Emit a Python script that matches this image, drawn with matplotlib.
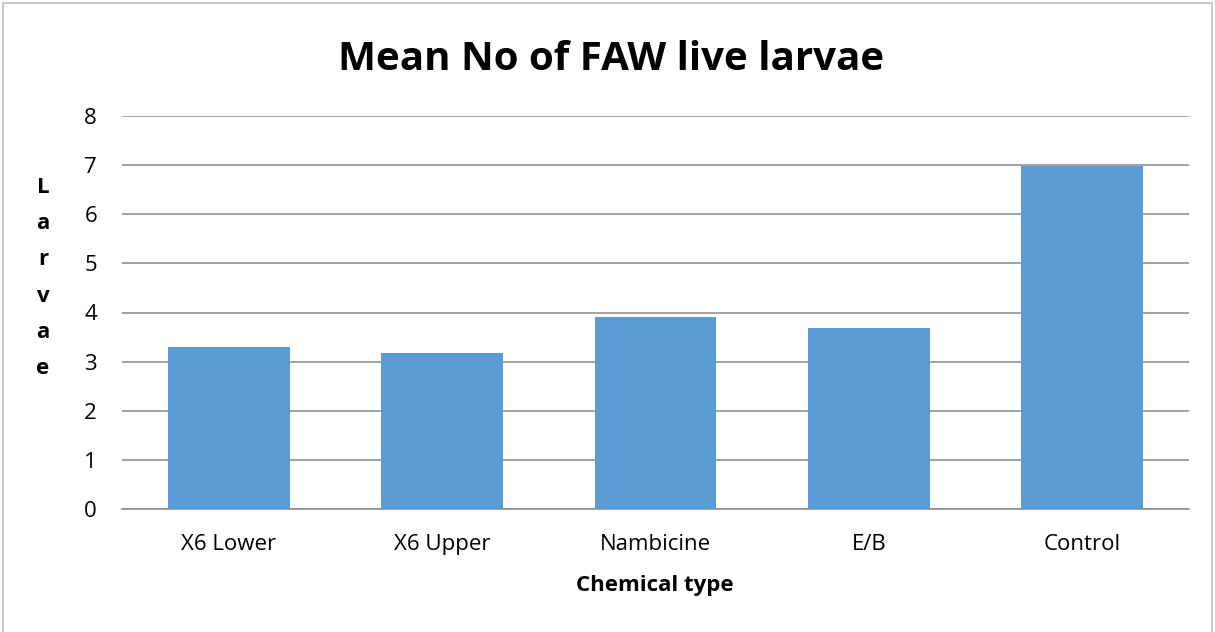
import matplotlib.pyplot as plt
from matplotlib.patches import Rectangle

categories = ["X6 Lower", "X6 Upper", "Nambicine", "E/B", "Control"]
mean_larvae = [3.29, 3.17, 3.9, 3.68, 6.98]
y_ticks = [0, 1, 2, 3, 4, 5, 6, 7, 8]

W, H = 1215, 632
fig = plt.figure(figsize=(W / 100, H / 100), dpi=100)
plt.rcParams["font.family"] = ["Open Sans", "DejaVu Sans"]

# plot area in pixels: x 122..1189, y 116..509
ax = fig.add_axes([122 / W, 1 - 509 / H, (1189 - 122) / W, (509 - 116) / H])
x = range(len(categories))
ax.bar(x, mean_larvae, width=0.57, color="#5b9bd5", zorder=3)
ax.set_xlim(-0.5, len(categories) - 0.5)
ax.set_ylim(0, 8)
ax.set_yticks(y_ticks)
ax.set_xticks(list(x))
ax.set_xticklabels(categories)
ax.tick_params(axis="both", length=0, labelsize=16, colors="#000000")
ax.tick_params(axis="y", pad=18)
ax.tick_params(axis="x", pad=18)
ax.grid(True, axis="y", color="#888888", linewidth=1.1, zorder=0)
for side in ["top", "right", "left"]:
    ax.spines[side].set_visible(False)
ax.spines["bottom"].set_color("#888888")
ax.spines["bottom"].set_linewidth(1.1)

fig.text(611 / W, 1 - 60 / H, "Mean No of FAW live larvae", ha="center", va="center",
         fontsize=29, fontweight="bold")
fig.text(655 / W, 1 - 585 / H, "Chemical type", ha="center", va="center",
         fontsize=16, fontweight="bold")
fig.text(43 / W, 1 - 278 / H, "\n".join("Larvae"), ha="center", va="center",
         fontsize=16, fontweight="bold", linespacing=1.95)

# light frame around the chart
fig.patches.append(Rectangle((3 / W, -0.01), 1209 / W, 1 - 3 / H + 0.01,
                             transform=fig.transFigure, fill=False,
                             edgecolor="#bfbfbf", linewidth=1.2))

fig.savefig("out.png", dpi=100)
